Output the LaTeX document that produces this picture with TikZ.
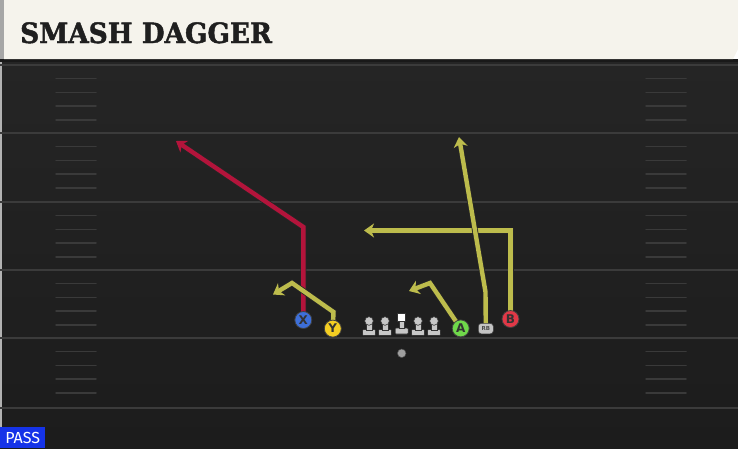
\documentclass[tikz,border=0pt]{standalone}
\usepackage{fontspec}
\newfontfamily\titlefont{DejaVu Serif}[BoldFeatures={FakeBold=1.6},FakeStretch=0.94]
\newfontfamily\tagfont{Fira Sans}
\newfontfamily\plfont{DejaVu Sans}
\usetikzlibrary{arrows.meta}
\definecolor{fieldtop}{HTML}{252525}
\definecolor{fieldbot}{HTML}{1C1C1C}
\definecolor{cream}{HTML}{F5F3EC}
\definecolor{yardline}{HTML}{3B3B3B}
\definecolor{hashline}{HTML}{3A3A3A}
\definecolor{routeyel}{HTML}{BDBC4C}
\definecolor{routered}{HTML}{B3143B}
\definecolor{xblue}{HTML}{3D6FD9}
\definecolor{yyel}{HTML}{F4CE22}
\definecolor{agreen}{HTML}{6FD84A}
\definecolor{bred}{HTML}{E13847}
\definecolor{rbgray}{HTML}{C4C4C4}
\definecolor{passblue}{HTML}{1533E8}
\pgfdeclarelayer{field}
\pgfdeclarelayer{routes}
\pgfsetlayers{field,routes,main}
\tikzset{
  >={Stealth[length=10pt,width=14pt,inset=3pt]},
  pl/.style={circle,draw=black!75,line width=0.8pt,minimum size=17pt,inner sep=0pt,
    font=\plfont\bfseries\fontsize{12}{12}\selectfont,text=black!80},
  rt/.style={->,line width=4.4pt,line join=miter,preaction={draw=black!85,line width=6pt}},
  yl/.style={line width=2pt,draw=yardline},
  hs/.style={line width=1.5pt,draw=hashline,line cap=round},
  man/.style={fill=black!22,draw=black!80,line width=0.6pt}
}

\begin{document}
\begin{tikzpicture}[x=1pt,y=-1pt]
    \useasboundingbox (0,0) rectangle (738,448);

    % field
    \begin{pgfonlayer}{field}
    \fill[top color=fieldtop,bottom color=fieldbot] (0,59) rectangle (738,448);
    \fill[black!90] (0,59) rectangle (738,62);
    \fill[black!30] (0,62) rectangle (1.5,448);
    \foreach \y in {65,133,202,270,338,408}
        \draw[yl] (0,\y) -- (738,\y);
    \foreach \y in {65,133,202,270,338}
      \foreach \k in {1,...,4} {
        \draw[hs] (56,\y+\k*13.7) -- (96,\y+\k*13.7);
        \draw[hs] (646,\y+\k*13.7) -- (686,\y+\k*13.7);
      }

    % header
    \fill[cream] (4,0) -- (738,0) -- (738,49) -- (733,59) -- (4,59) -- cycle;
    \fill[black!35] (0,0) rectangle (4,59);
    \end{pgfonlayer}
    \node[anchor=base west,inner sep=0pt,text=black!88] (title) at (20,43)
        {\titlefont\bfseries\fontsize{28}{28}\selectfont SMASH DAGGER};

    % play tag
    \node[anchor=north west,fill=passblue,text=white,inner sep=0pt,
          minimum width=45pt,minimum height=21pt] (tag) at (0,427)
        {\tagfont\fontsize{16}{16}\selectfont PASS};

    % offensive line
    \foreach \x/\nm in {369/lt,385/lg,418/rg,434/rt} {
        \fill[man,rounded corners=1pt] (\x-6.5,329.5) rectangle (\x+6.5,335.5);
        \fill[man] (\x-2.8,322) rectangle (\x+2.8,330);
        \fill[man] (\x,321) circle (4.3);
    }
    \fill[man,rounded corners=1pt] (395.2,328) rectangle (408.2,334);
    \fill[man] (398.9,320) rectangle (404.5,328.5);
    \fill[white,draw=black!80,line width=0.6pt] (397.7,313) rectangle (405.7,321);
    \fill[gray!75,draw=black!70,line width=0.5pt] (401.7,353.3) circle (4.3);

    % skill players
    \node[pl,fill=xblue] (X) at (303.3,320) {X};
    \node[pl,fill=yyel] (Y) at (332.8,328.6) {Y};
    \node[pl,fill=agreen] (A) at (460.7,328.4) {A};
    \node[pl,fill=bred] (B) at (510.5,319) {B};
    \node[fill=rbgray,draw=black!75,line width=0.6pt,rounded corners=3pt,
          minimum width=15pt,minimum height=10.5pt,inner sep=0pt,
          font=\plfont\bfseries\fontsize{5.5}{5.5}\selectfont,text=black!70] (RB) at (485.8,328.6) {RB};

    % route points
    \coordinate (xc) at (303.3,227);
    \coordinate (xe) at (176,141);
    \coordinate (yc1) at (333.5,312);
    \coordinate (yc2) at (292,283);
    \coordinate (ye) at (273,294.5);
    \coordinate (ac) at (430,283);
    \coordinate (ae) at (409,291);
    \coordinate (rbc) at (485.5,292);
    \coordinate (rbe) at (459,137);
    \coordinate (bc) at (510.5,230.5);
    \coordinate (be) at (364,230.5);

    % routes
    \begin{pgfonlayer}{routes}
    \draw[rt,draw=routered] (X.center) -- (xc) -- (xe);
    \draw[rt,draw=routeyel] (Y.center) -- (yc1) -- (yc2) -- (ye);
    \draw[rt,draw=routeyel] (A.center) -- (ac) -- (ae);
    \draw[rt,draw=routeyel] (B.center) -- (bc) -- (be);
    \draw[rt,draw=routeyel] (RB.center) -- (rbc) -- (rbe);
    \end{pgfonlayer}
\end{tikzpicture}
\end{document}
